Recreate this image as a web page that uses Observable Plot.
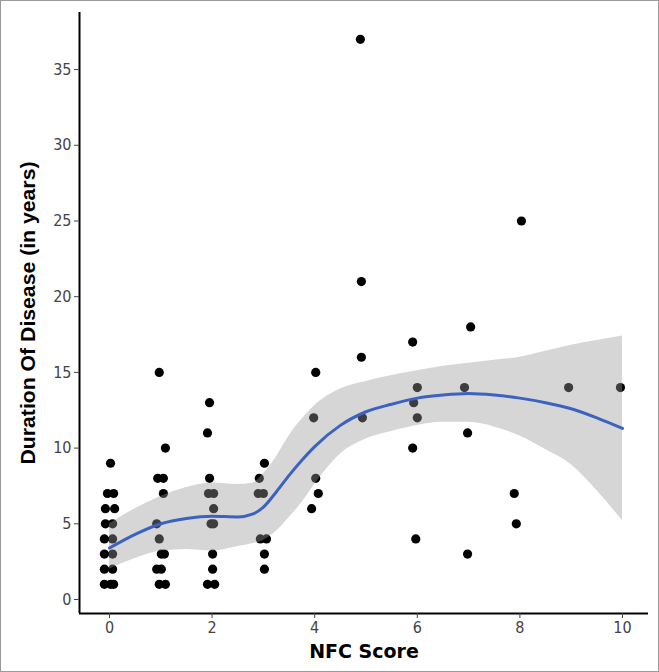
<!DOCTYPE html>
<html>
<head>
<meta charset="utf-8">
<script src="https://cdn.jsdelivr.net/npm/d3@7"></script>
<script src="https://cdn.jsdelivr.net/npm/@observablehq/plot@0.6"></script>
<style>
  html, body { margin: 0; padding: 0; background: #fff; }
  #frame { width: 657px; height: 670px; border: 1px solid #9a9a9a; overflow: hidden; }
</style>
</head>
<body>
<div id="frame"></div>
<script>
// Scatter data: NFC score (jittered) and duration of disease (years)
const nfcScore = [
  0.02, -0.04, 0.08, -0.08, 0.10, -0.08, 0.06, -0.10, 0.06, -0.10, 0.06, -0.10, 0.06, -0.10, 0.02, 0.08,
  0.97, 1.09, 0.94, 1.05, 1.05, 0.92, 0.97, 1.01, 1.07, 0.92, 1.01, 0.97, 1.09,
  1.95, 1.91, 1.95, 1.93, 2.03, 2.03, 1.98, 2.03, 2.01, 2.01, 1.91, 2.05,
  3.02, 2.92, 2.90, 3.00, 2.94, 3.06, 3.02, 3.02,
  4.02, 3.98, 4.02, 4.07, 3.94,
  4.89, 4.91, 4.91, 4.93,
  5.91, 6.00, 5.93, 6.00, 5.91, 5.97,
  7.04, 6.92, 6.98, 6.98,
  8.03, 7.89, 7.93,
  8.95,
  9.96
];
const duration = [
  9, 7, 7, 6, 6, 5, 5, 4, 4, 3, 3, 2, 2, 1, 1, 1,
  15, 10, 8, 8, 7, 5, 4, 3, 3, 2, 2, 1, 1,
  13, 11, 8, 7, 7, 6, 5, 5, 3, 2, 1, 1,
  9, 8, 7, 7, 4, 4, 3, 2,
  15, 12, 8, 7, 6,
  37, 21, 16, 12,
  17, 14, 13, 12, 10, 4,
  18, 14, 11, 3,
  25, 7, 5,
  14,
  14
];

// Smoothed (loess) curve and its confidence band
const smoothX    = [0, 0.5, 1, 1.5, 2, 2.5, 2.8, 3, 3.25, 3.5, 3.75, 4, 4.5, 5, 5.5, 6, 6.5, 7, 7.5, 8, 8.5, 9, 9.5, 10];
const smoothY    = [3.4, 4.3, 5.0, 5.35, 5.5, 5.45, 5.65, 6.1, 7.1, 8.2, 9.2, 10.1, 11.5, 12.4, 12.9, 13.3, 13.5, 13.6, 13.5, 13.3, 13.0, 12.6, 12.0, 11.3];
const smoothLow  = [2.0, 2.7, 3.2, 3.3, 3.2, 3.5, 3.7, 3.9, 4.5, 5.4, 6.4, 7.6, 9.6, 10.6, 11.1, 11.5, 11.7, 11.7, 11.4, 10.8, 9.9, 8.9, 7.2, 5.2];
const smoothHigh = [5.0, 6.0, 6.8, 7.4, 7.7, 7.6, 7.7, 8.3, 9.4, 10.8, 11.9, 12.8, 13.9, 14.4, 14.8, 15.1, 15.4, 15.6, 15.8, 16.0, 16.4, 16.8, 17.1, 17.4];

const xTicks = [0, 2, 4, 6, 8, 10];
const yTicks = [0, 5, 10, 15, 20, 25, 30, 35];
const xDomain = [-0.585, 10.507];
const yDomain = [-0.925, 38.77];
const xTitle = "NFC Score";
const yTitle = "Duration Of Disease (in years)";

const points = nfcScore.map((x, i) => ({x, y: duration[i]}));
const smooth = smoothX.map((x, i) => ({x, y: smoothY[i], lo: smoothLow[i], hi: smoothHigh[i]}));

const tickFont = "'DejaVu Sans Condensed', 'DejaVu Sans', sans-serif";

const chart = Plot.plot({
  width: 657,
  height: 670,
  marginLeft: 78,
  marginRight: 10,
  marginTop: 11,
  marginBottom: 58,
  style: {background: "#fff", fontFamily: "DejaVu Sans, sans-serif"},
  x: {domain: xDomain, label: null},
  y: {domain: yDomain, label: null},
  marks: [
    Plot.dot(points, {x: "x", y: "y", r: 4.6, fill: "#000", stroke: "none"}),
    Plot.areaY(smooth, {x: "x", y1: "lo", y2: "hi", fill: "#999999", fillOpacity: 0.4, curve: "monotone-x"}),
    Plot.line(smooth, {x: "x", y: "y", stroke: "#3b62c0", strokeWidth: 3, curve: "monotone-x"}),
    Plot.ruleX([xDomain[0]], {stroke: "#000", strokeWidth: 2}),
    Plot.ruleY([yDomain[0]], {stroke: "#000", strokeWidth: 2}),
    Plot.axisX({ticks: xTicks, tickSize: 5, tickPadding: 3, fontSize: 16, fontFamily: tickFont, color: "#444", label: null}),
    Plot.axisY({ticks: yTicks, tickSize: 5, tickPadding: 3, fontSize: 16, fontFamily: tickFont, color: "#444", label: null}),
    Plot.text([xTitle], {frameAnchor: "bottom", dy: 44, text: d => d, fontSize: 19, fontWeight: "bold", fill: "#000", fontFamily: "DejaVu Sans"}),
    Plot.text([yTitle], {frameAnchor: "left", textAnchor: "middle", dx: -51, rotate: -90, text: d => d, fontSize: 21, fontWeight: "bold", fill: "#000", fontFamily: "'Liberation Sans Narrow', 'Liberation Sans', Arial"})
  ]
});
// stretch the y title to the reference's length (condensed look)
chart.querySelectorAll("text").forEach(t => {
  if (t.textContent === yTitle) {
    t.setAttribute("textLength", 303);
    t.setAttribute("lengthAdjust", "spacingAndGlyphs");
  }
});
document.getElementById("frame").appendChild(chart);
</script>
</body>
</html>
